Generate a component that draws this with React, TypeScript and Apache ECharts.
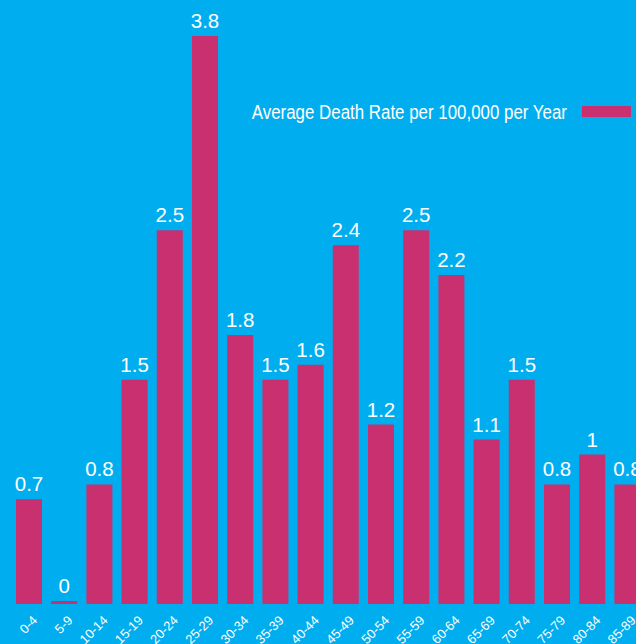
import React, { useEffect, useRef } from "react";
import * as echarts from "echarts";

const categories = ["0-4", "5-9", "10-14", "15-19", "20-24", "25-29", "30-34", "35-39", "40-44", "45-49", "50-54", "55-59", "60-64", "65-69", "70-74", "75-79", "80-84", "85-89"];
const deathRates = [0.7, 0, 0.8, 1.5, 2.5, 3.8, 1.8, 1.5, 1.6, 2.4, 1.2, 2.5, 2.2, 1.1, 1.5, 0.8, 1, 0.8];
const seriesName = "Average Death Rate per 100,000 per Year";

const FONT = '"Liberation Sans", Arial, sans-serif';
const BAR_COLOR = "#C8306F";

export default function App() {
  const ref = useRef<HTMLDivElement>(null);
  useEffect(() => {
    if (!ref.current) return;
    const chart = echarts.init(ref.current, null, { renderer: "svg" });
    chart.setOption({
      animation: false,
      backgroundColor: "#00AEEF",
      textStyle: { fontFamily: FONT },
      legend: {
        data: [seriesName],
        right: 0,
        top: 101,
        padding: 5,
        align: "right",
        itemWidth: 49,
        itemHeight: 11,
        icon: "rect",
        formatter: () => "",
        textStyle: { color: "#ffffff", fontSize: 11, fontFamily: FONT },
      },
      graphic: [
        {
          type: "text",
          x: 567,
          y: 111.5,
          scaleX: 0.805,
          style: {
            text: seriesName,
            fill: "#ffffff",
            font: `21px ${FONT}`,
            textAlign: "right",
            textVerticalAlign: "middle",
          },
        },
      ],
      grid: { left: 11.4, right: -9, top: 6, bottom: 40, containLabel: false, outerBoundsMode: "none" },
      xAxis: {
        type: "category",
        data: categories,
        axisLine: { show: false },
        axisTick: { show: false },
        axisLabel: {
          color: "#ffffff",
          fontSize: 13,
          fontFamily: FONT,
          rotate: 45,
          interval: 0,
          margin: 8,
          verticalAlign: "top",
          padding: [2, 0, 0, 0],
        },
      },
      yAxis: { type: "value", min: 0, max: 4, show: false, splitLine: { show: false } },
      series: [
        {
          name: seriesName,
          type: "bar",
          data: deathRates,
          barWidth: 26,
          barMinHeight: 3,
          itemStyle: { color: BAR_COLOR },
          label: {
            show: true,
            position: "top",
            distance: 5,
            color: "#ffffff",
            fontSize: 20.5,
            fontFamily: FONT,
          },
        },
      ],
    });
    return () => chart.dispose();
  }, []);
  return <div ref={ref} style={{ position: "fixed", left: 0, top: 0, width: 636, height: 644 }} />;
}
